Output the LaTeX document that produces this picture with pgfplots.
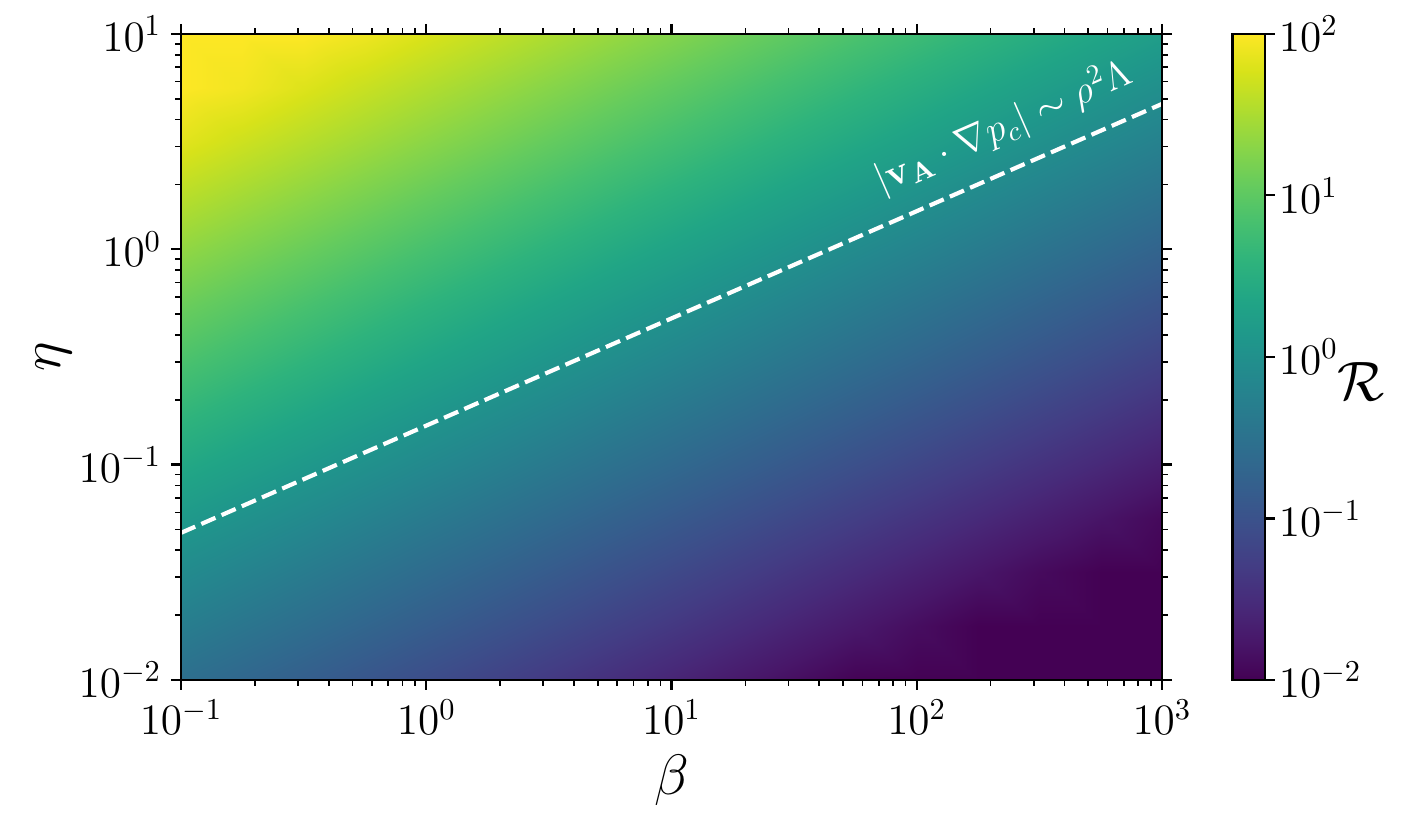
\documentclass[border=0pt]{standalone}
\usepackage{fix-cm}
\usepackage{pgfplots}
\pgfplotsset{compat=1.18}
\pgfplotsset{colormap/viridis}
\begin{document}
\begin{tikzpicture}
\begin{axis}[
  name=main,
  scale only axis,
  width=353.2pt, height=232.6pt,
  xmode=log, ymode=log,
  xmin=0.1, xmax=1000, ymin=0.01, ymax=10,
  axis on top,
  axis line style={line width=0.8pt},
  tick align=outside,
  major tick length=3.6pt,
  minor tick length=2.1pt,
  every tick/.style={black, line width=0.8pt},
  every minor tick/.style={black, line width=0.6pt},
  tick label style={font=\fontsize{15.6}{18}\selectfont},
  xlabel={$\beta$},
  ylabel={$\eta$},
  label style={font=\fontsize{20.5}{24}\selectfont},
  xlabel style={at={(axis description cs:0.5,-0.116)}, anchor=north, inner sep=0pt},
  ylabel style={at={(axis description cs:-0.111,0.5)}, anchor=south, inner sep=0pt},
  colormap name=viridis,
  point meta min=-2, point meta max=2,
  colorbar,
  colorbar/width=11.6pt,
  colorbar style={
    scale only axis,
    width=11.6pt,
    height=232.6pt,
    at={(parent axis.north east)}, anchor=north west, xshift=16.8pt,
    axis line style={line width=0.8pt},
    ytick={-2,-1,0,1,2},
    yticklabels={$10^{-2}$,$10^{-1}$,$10^{0}$,$10^{1}$,$10^{2}$},
    ytick pos=right,
    tick align=outside,
    major tick length=3.6pt,
    every tick/.style={black, line width=0.8pt},
    yticklabel style={font=\fontsize{15.6}{18}\selectfont, xshift=-2pt},
  },
]
\addplot[surf, shader=interp, mesh/cols=17, point meta=explicit] table[x=b, y=e, meta=c] {
b e c
0.1 0.01 -0.55
0.17783 0.01 -0.68
0.31623 0.01 -0.81
0.56234 0.01 -0.94
1 0.01 -1.07
1.7783 0.01 -1.20
3.1623 0.01 -1.33
5.6234 0.01 -1.46
10 0.01 -1.59
17.783 0.01 -1.72
31.623 0.01 -1.85
56.234 0.01 -1.98
100 0.01 -2
177.83 0.01 -2
316.23 0.01 -2
562.34 0.01 -2
1000 0.01 -2

0.1 0.017783 -0.31
0.17783 0.017783 -0.44
0.31623 0.017783 -0.57
0.56234 0.017783 -0.70
1 0.017783 -0.83
1.7783 0.017783 -0.96
3.1623 0.017783 -1.09
5.6234 0.017783 -1.22
10 0.017783 -1.35
17.783 0.017783 -1.48
31.623 0.017783 -1.61
56.234 0.017783 -1.74
100 0.017783 -1.87
177.83 0.017783 -2.00
316.23 0.017783 -2
562.34 0.017783 -2
1000 0.017783 -2

0.1 0.031623 -0.08
0.17783 0.031623 -0.21
0.31623 0.031623 -0.34
0.56234 0.031623 -0.47
1 0.031623 -0.60
1.7783 0.031623 -0.73
3.1623 0.031623 -0.86
5.6234 0.031623 -0.99
10 0.031623 -1.12
17.783 0.031623 -1.25
31.623 0.031623 -1.38
56.234 0.031623 -1.51
100 0.031623 -1.64
177.83 0.031623 -1.77
316.23 0.031623 -1.90
562.34 0.031623 -2
1000 0.031623 -2

0.1 0.056234 0.16
0.17783 0.056234 0.03
0.31623 0.056234 -0.10
0.56234 0.056234 -0.23
1 0.056234 -0.36
1.7783 0.056234 -0.49
3.1623 0.056234 -0.62
5.6234 0.056234 -0.75
10 0.056234 -0.88
17.783 0.056234 -1.01
31.623 0.056234 -1.14
56.234 0.056234 -1.27
100 0.056234 -1.40
177.83 0.056234 -1.53
316.23 0.056234 -1.66
562.34 0.056234 -1.79
1000 0.056234 -1.92

0.1 0.1 0.40
0.17783 0.1 0.27
0.31623 0.1 0.14
0.56234 0.1 0.01
1 0.1 -0.12
1.7783 0.1 -0.25
3.1623 0.1 -0.38
5.6234 0.1 -0.51
10 0.1 -0.64
17.783 0.1 -0.77
31.623 0.1 -0.90
56.234 0.1 -1.03
100 0.1 -1.16
177.83 0.1 -1.29
316.23 0.1 -1.42
562.34 0.1 -1.55
1000 0.1 -1.68

0.1 0.17783 0.64
0.17783 0.17783 0.51
0.31623 0.17783 0.38
0.56234 0.17783 0.25
1 0.17783 0.12
1.7783 0.17783 -0.01
3.1623 0.17783 -0.14
5.6234 0.17783 -0.27
10 0.17783 -0.40
17.783 0.17783 -0.53
31.623 0.17783 -0.66
56.234 0.17783 -0.79
100 0.17783 -0.92
177.83 0.17783 -1.05
316.23 0.17783 -1.18
562.34 0.17783 -1.31
1000 0.17783 -1.44

0.1 0.31623 0.88
0.17783 0.31623 0.75
0.31623 0.31623 0.62
0.56234 0.31623 0.49
1 0.31623 0.36
1.7783 0.31623 0.23
3.1623 0.31623 0.10
5.6234 0.31623 -0.03
10 0.31623 -0.16
17.783 0.31623 -0.29
31.623 0.31623 -0.42
56.234 0.31623 -0.55
100 0.31623 -0.68
177.83 0.31623 -0.81
316.23 0.31623 -0.94
562.34 0.31623 -1.07
1000 0.31623 -1.20

0.1 0.56234 1.11
0.17783 0.56234 0.98
0.31623 0.56234 0.85
0.56234 0.56234 0.72
1 0.56234 0.59
1.7783 0.56234 0.46
3.1623 0.56234 0.33
5.6234 0.56234 0.20
10 0.56234 0.07
17.783 0.56234 -0.06
31.623 0.56234 -0.19
56.234 0.56234 -0.32
100 0.56234 -0.45
177.83 0.56234 -0.58
316.23 0.56234 -0.71
562.34 0.56234 -0.84
1000 0.56234 -0.97

0.1 1 1.35
0.17783 1 1.22
0.31623 1 1.09
0.56234 1 0.96
1 1 0.83
1.7783 1 0.70
3.1623 1 0.57
5.6234 1 0.44
10 1 0.31
17.783 1 0.18
31.623 1 0.05
56.234 1 -0.08
100 1 -0.21
177.83 1 -0.34
316.23 1 -0.47
562.34 1 -0.60
1000 1 -0.73

0.1 1.7783 1.59
0.17783 1.7783 1.46
0.31623 1.7783 1.33
0.56234 1.7783 1.20
1 1.7783 1.07
1.7783 1.7783 0.94
3.1623 1.7783 0.81
5.6234 1.7783 0.68
10 1.7783 0.55
17.783 1.7783 0.42
31.623 1.7783 0.29
56.234 1.7783 0.16
100 1.7783 0.03
177.83 1.7783 -0.10
316.23 1.7783 -0.23
562.34 1.7783 -0.36
1000 1.7783 -0.49

0.1 3.1623 1.83
0.17783 3.1623 1.70
0.31623 3.1623 1.57
0.56234 3.1623 1.44
1 3.1623 1.31
1.7783 3.1623 1.18
3.1623 3.1623 1.05
5.6234 3.1623 0.92
10 3.1623 0.79
17.783 3.1623 0.66
31.623 3.1623 0.53
56.234 3.1623 0.40
100 3.1623 0.27
177.83 3.1623 0.14
316.23 3.1623 0.01
562.34 3.1623 -0.12
1000 3.1623 -0.25

0.1 5.6234 2
0.17783 5.6234 1.93
0.31623 5.6234 1.80
0.56234 5.6234 1.67
1 5.6234 1.54
1.7783 5.6234 1.41
3.1623 5.6234 1.28
5.6234 5.6234 1.15
10 5.6234 1.02
17.783 5.6234 0.89
31.623 5.6234 0.76
56.234 5.6234 0.63
100 5.6234 0.50
177.83 5.6234 0.37
316.23 5.6234 0.24
562.34 5.6234 0.11
1000 5.6234 -0.02

0.1 10 2
0.17783 10 2
0.31623 10 2
0.56234 10 1.91
1 10 1.78
1.7783 10 1.65
3.1623 10 1.52
5.6234 10 1.39
10 10 1.26
17.783 10 1.13
31.623 10 1.00
56.234 10 0.87
100 10 0.74
177.83 10 0.61
316.23 10 0.48
562.34 10 0.35
1000 10 0.22
};
\addplot[white, line width=1.5pt, dash pattern=on 5.55pt off 2.4pt] coordinates {(0.1,0.0482) (1000,4.73)}
  node[pos=0.856, sloped, above=7pt, inner sep=0pt, text=white, font=\fontsize{14}{17}\selectfont] {$|\mathbf{v_A}\cdot\nabla p_c| \sim \rho^2\Lambda$};
\end{axis}
\node[font=\fontsize{20}{24}\selectfont, inner sep=0pt] at ([shift={(71.6pt,-9pt)}]main.east) {$\mathcal{R}$};
\pgfresetboundingbox
\path[use as bounding box] ([shift={(-65.2pt,-52.6pt)}]main.south west) rectangle ([shift={(88.2pt,12.2pt)}]main.north east);
\end{tikzpicture}
\end{document}
